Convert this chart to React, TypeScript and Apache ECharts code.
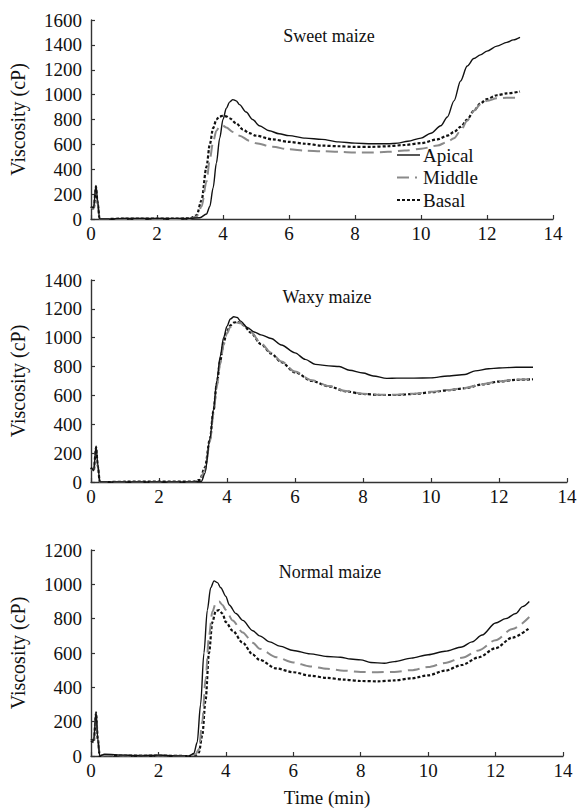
import React, { useEffect, useRef } from "react";
import * as echarts from "echarts";

const FONT = "Liberation Serif";

const panelTitles = ["Sweet maize", "Waxy maize", "Normal maize"];
const seriesNames = ["Apical", "Middle", "Basal"];
const yMax = [1600, 1400, 1200];
const xTicks = { min: 0, max: 14, interval: 2 };

const sweetApical = [[0,100],[0.08,90],[0.15,270],[0.2,150],[0.26,0],[0.5,0],[1,5],[1.5,5],[2,5],[2.5,5],[3,5],[3.3,10],[3.5,40],[3.6,100],[3.7,250],[3.8,450],[3.9,650],[4.0,800],[4.1,890],[4.2,940],[4.3,960],[4.4,950],[4.5,920],[4.7,860],[4.9,800],[5.1,750],[5.4,710],[5.7,685],[6,670],[6.5,650],[7,640],[7.5,620],[8,610],[8.5,605],[9,605],[9.3,610],[9.6,625],[10,650],[10.3,690],[10.6,750],[10.8,820],[11,950],[11.2,1110],[11.4,1230],[11.6,1290],[11.8,1320],[12,1350],[12.3,1390],[12.6,1420],[12.8,1440],[13,1460]];
const sweetMiddle = [[0,100],[0.08,80],[0.15,250],[0.2,120],[0.26,0],[0.5,0],[1,2],[1.5,3],[2,2],[2.5,0],[3,3],[3.2,20],[3.35,100],[3.5,300],[3.6,480],[3.7,620],[3.8,710],[3.9,745],[4.0,750],[4.1,735],[4.3,700],[4.5,670],[4.8,630],[5,610],[5.5,580],[6,560],[6.5,550],[7,545],[7.5,540],[8,535],[8.5,535],[9,540],[9.5,550],[10,565],[10.5,590],[10.8,620],[11,650],[11.2,710],[11.4,790],[11.6,870],[11.8,920],[12,950],[12.3,970],[12.6,975],[12.9,975]];
const sweetBasal = [[0,100],[0.08,80],[0.15,260],[0.2,130],[0.26,0],[0.5,0],[1,3],[1.5,4],[2,3],[2.5,3],[3,5],[3.2,30],[3.35,150],[3.5,420],[3.6,600],[3.7,730],[3.8,800],[3.9,825],[4.0,830],[4.1,825],[4.2,810],[4.4,770],[4.6,720],[4.8,690],[5,670],[5.5,640],[6,620],[6.5,605],[7,590],[7.5,585],[8,580],[8.5,580],[9,585],[9.5,595],[10,610],[10.5,640],[10.8,670],[11,700],[11.2,740],[11.4,800],[11.6,870],[11.8,930],[12,965],[12.3,995],[12.6,1010],[13,1025]];

const waxyApical = [[0,100],[0.08,80],[0.15,250],[0.2,120],[0.26,0],[0.5,0],[1,0],[2,0],[3,0],[3.25,5],[3.35,60],[3.5,300],[3.6,500],[3.7,700],[3.8,870],[3.9,1000],[4.0,1080],[4.1,1130],[4.2,1145],[4.3,1140],[4.4,1115],[4.6,1070],[4.8,1040],[5,1020],[5.3,995],[5.6,950],[6,895],[6.3,850],[6.6,815],[7,805],[7.3,800],[7.6,775],[8,755],[8.3,735],[8.7,718],[9,720],[9.5,720],[10,722],[10.5,735],[11,745],[11.3,770],[11.7,785],[12,790],[12.5,795],[13,795]];
const waxyMiddle = [[0,90],[0.08,80],[0.15,230],[0.2,110],[0.26,0],[0.5,0],[1,0],[2,0],[3,0],[3.2,10],[3.35,80],[3.5,280],[3.6,470],[3.7,660],[3.8,820],[3.9,950],[4.0,1030],[4.1,1075],[4.2,1095],[4.3,1105],[4.4,1100],[4.5,1085],[4.7,1040],[5,960],[5.3,895],[5.6,835],[6,765],[6.5,705],[7,665],[7.5,630],[8,612],[8.5,605],[9,605],[9.5,612],[10,625],[10.5,638],[11,652],[11.5,678],[12,698],[12.5,710],[13,713]];
const waxyBasal = [[0,100],[0.08,80],[0.15,240],[0.2,110],[0.26,0],[0.5,0],[1,2],[2,2],[3,2],[3.2,15],[3.35,100],[3.5,300],[3.6,490],[3.7,680],[3.8,840],[3.9,965],[4.0,1045],[4.1,1085],[4.2,1105],[4.3,1110],[4.4,1102],[4.5,1085],[4.7,1035],[5,955],[5.3,890],[5.6,830],[6,760],[6.5,700],[7,662],[7.5,628],[8,610],[8.5,603],[9,603],[9.5,610],[10,622],[10.5,636],[11,650],[11.5,676],[12,696],[12.5,708],[13,712]];

const normalApical = [[0,100],[0.08,90],[0.15,260],[0.2,100],[0.26,0],[0.4,10],[1,5],[1.5,0],[2,5],[2.5,0],[2.9,0],[3.05,15],[3.15,80],[3.25,300],[3.35,600],[3.45,850],[3.55,980],[3.65,1020],[3.75,1010],[3.85,980],[4,930],[4.1,880],[4.3,830],[4.5,790],[4.8,730],[5,700],[5.3,665],[5.6,640],[6,615],[6.5,595],[7,580],[7.4,575],[7.7,565],[8,560],[8.3,545],[8.7,540],[9,550],[9.5,570],[10,590],[10.5,610],[11,635],[11.3,665],[11.6,705],[12,775],[12.3,800],[12.6,830],[12.8,870],[13,900]];
const normalMiddle = [[0,100],[0.08,90],[0.15,240],[0.2,100],[0.26,0],[0.4,5],[1,3],[2,3],[2.9,0],[3.1,10],[3.2,40],[3.3,200],[3.4,450],[3.5,700],[3.6,840],[3.7,890],[3.8,900],[3.9,880],[4,850],[4.2,790],[4.5,720],[4.8,660],[5,625],[5.5,575],[6,545],[6.5,522],[7,508],[7.5,497],[8,490],[8.5,488],[9,490],[9.5,500],[10,518],[10.5,542],[11,572],[11.5,615],[12,675],[12.5,740],[13,810]];
const normalBasal = [[0,90],[0.08,80],[0.15,250],[0.2,100],[0.26,0],[0.4,5],[1,2],[2,2],[2.9,0],[3.1,5],[3.2,20],[3.3,120],[3.4,330],[3.5,600],[3.6,780],[3.7,845],[3.8,850],[3.9,830],[4,780],[4.2,730],[4.5,660],[4.8,590],[5,560],[5.5,510],[6,488],[6.5,468],[7,455],[7.5,445],[8,437],[8.5,435],[9,440],[9.5,452],[10,470],[10.5,497],[11,530],[11.5,575],[12,628],[12.5,690],[13,745]];

const panelData = [
  [sweetApical, sweetMiddle, sweetBasal],
  [waxyApical, waxyMiddle, waxyBasal],
  [normalApical, normalMiddle, normalBasal],
];

const grids = [
  { left: 89, top: 20, width: 464, height: 199 },
  { left: 90, top: 280, width: 477, height: 202 },
  { left: 88, top: 550, width: 475, height: 206 },
];
const titlePos = [
  { x: 324, y: 22 },
  { x: 322, y: 283 },
  { x: 325, y: 558 },
];

const lineStyles = [
  { color: "#111111", width: 1.4, type: "solid" },
  { color: "#8a8a8a", width: 2, type: [12, 6] },
  { color: "#111111", width: 2.2, type: [3, 2] },
];

const legendPos = { x: 397, y: 155, step: 22.5, lineLen: 23, textGap: 3 };

export default function App() {
  const ref = useRef<HTMLDivElement>(null);
  useEffect(() => {
    if (!ref.current) return;
    const chart = echarts.init(ref.current, null, { renderer: "svg" });
    const axisLine = { show: true, lineStyle: { color: "#333", width: 1.4 } };
    const axisTick = { show: true, inside: true, length: 4, lineStyle: { color: "#333", width: 1.2 } };
    const labelStyle = { fontFamily: FONT, fontSize: 19, color: "#111" };

    const series: any[] = [];
    panelData.forEach((sets, p) => {
      sets.forEach((d, i) => {
        series.push({
          name: seriesNames[i],
          type: "line",
          xAxisIndex: p,
          yAxisIndex: p,
          data: d,
          showSymbol: false,
          symbol: "none",
          smooth: 0.3,
          smoothMonotone: "x",
          lineStyle: lineStyles[i],
          z: 3 - i,
        });
      });
    });

    const legendGraphics: any[] = [];
    seriesNames.forEach((n, i) => {
      const y = legendPos.y + i * legendPos.step;
      const ls = lineStyles[i];
      legendGraphics.push({
        type: "line",
        shape: { x1: legendPos.x, y1: y, x2: legendPos.x + (i === 1 ? 20 : legendPos.lineLen), y2: y },
        style: {
          stroke: ls.color,
          lineWidth: ls.width,
          lineDash: Array.isArray(ls.type) ? ls.type : null,
        },
      });
      legendGraphics.push({
        type: "text",
        x: legendPos.x + legendPos.lineLen + legendPos.textGap,
        y,
        style: {
          text: n,
          fontFamily: FONT,
          fontSize: 19,
          fill: "#111",
          verticalAlign: "middle",
          align: "left",
        },
      });
    });

    chart.setOption({
      animation: false,
      backgroundColor: "#ffffff",
      title: panelTitles.map((t, p) => ({
        text: t,
        left: titlePos[p].x,
        top: titlePos[p].y,
        textAlign: "center",
        textStyle: { fontFamily: FONT, fontSize: 18, fontWeight: "normal", color: "#111" },
      })),
      graphic: legendGraphics,
      grid: grids.map((g) => ({ ...g, containLabel: false })),
      xAxis: grids.map((_, p) => ({
        type: "value",
        gridIndex: p,
        min: xTicks.min,
        max: xTicks.max,
        interval: xTicks.interval,
        axisLine,
        axisTick,
        splitLine: { show: false },
        axisLabel: { ...labelStyle, margin: 5, formatter: (v: number) => String(v) },
        name: p === 2 ? "Time (min)" : "",
        nameLocation: "middle",
        nameGap: 32,
        nameTextStyle: { fontFamily: FONT, fontSize: 19, color: "#111" },
      })),
      yAxis: grids.map((_, p) => ({
        type: "value",
        gridIndex: p,
        min: 0,
        max: yMax[p],
        interval: 200,
        axisLine,
        axisTick,
        splitLine: { show: false },
        axisLabel: { ...labelStyle, margin: 9, formatter: (v: number) => String(v) },
        name: "Viscosity (cP)",
        nameLocation: "middle",
        nameRotate: 90,
        nameGap: 63,
        nameTextStyle: { fontFamily: FONT, fontSize: 20, color: "#111" },
      })),
      series,
    });
    return () => chart.dispose();
  }, []);
  return (
    <div
      ref={ref}
      style={{ position: "absolute", left: 0, top: 0, width: 580, height: 809, background: "#fff" }}
    />
  );
}
